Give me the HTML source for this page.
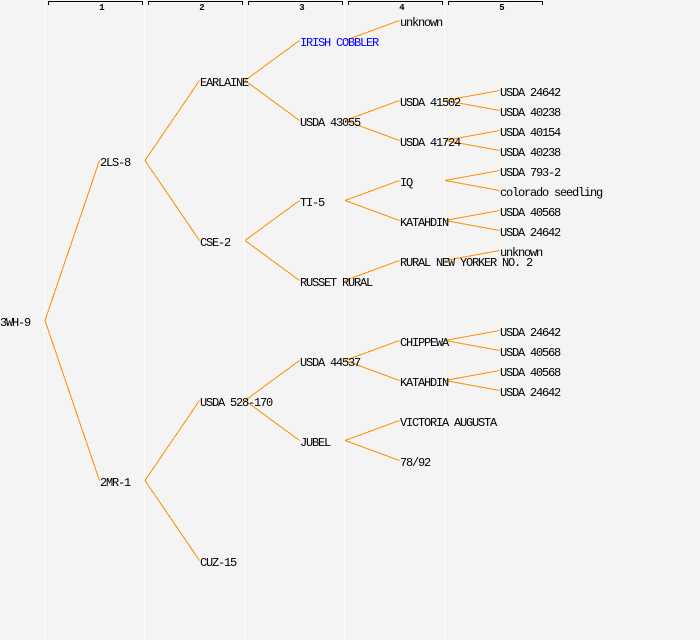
<!DOCTYPE html>
<html>
<head>
<meta charset="utf-8">
<style>
html,body{margin:0;padding:0;background:#f4f4f4;}
svg{display:block;}
.t{font-family:"Liberation Mono","DejaVu Sans Mono",monospace;font-size:12px;letter-spacing:-1.2px;fill:#000;}
.h{font-family:"Liberation Mono","DejaVu Sans Mono",monospace;font-size:9px;font-weight:bold;fill:#000;}
.e{stroke:#ff8c00;stroke-width:1;fill:none;shape-rendering:crispEdges;}
</style>
</head>
<body>
<svg width="700" height="640" viewBox="0 0 700 640" xmlns="http://www.w3.org/2000/svg">
<rect x="0" y="0" width="700" height="640" fill="#f4f4f4"/>
<!-- column separators -->
<rect x="44" y="0" width="1" height="640" fill="#ffffff"/>
<rect x="144" y="0" width="1" height="640" fill="#ffffff"/>
<rect x="244" y="0" width="1" height="640" fill="#ffffff"/>
<rect x="344" y="0" width="1" height="640" fill="#ffffff"/>
<rect x="444" y="0" width="1" height="640" fill="#ffffff"/>

<!-- header brackets -->
<g stroke="#000" stroke-width="1" fill="none" shape-rendering="crispEdges">
<path d="M48.5,5 V1.5 H142.5 V5"/>
<path d="M148.5,5 V1.5 H242.5 V5"/>
<path d="M248.5,5 V1.5 H342.5 V5"/>
<path d="M348.5,5 V1.5 H442.5 V5"/>
<path d="M448.5,5 V1.5 H542.5 V5"/>
</g>
<text class="h" x="102" y="10" text-anchor="middle">1</text>
<text class="h" x="202" y="10" text-anchor="middle">2</text>
<text class="h" x="302" y="10" text-anchor="middle">3</text>
<text class="h" x="402" y="10" text-anchor="middle">4</text>
<text class="h" x="502" y="10" text-anchor="middle">5</text>

<!-- edges -->
<g class="e">
<line x1="45" y1="320.5" x2="99.5" y2="160.5"/>
<line x1="45" y1="320.5" x2="99.5" y2="480.5"/>
<line x1="145" y1="160.5" x2="199.5" y2="80.5"/>
<line x1="145" y1="160.5" x2="199.5" y2="240.5"/>
<line x1="145" y1="480.5" x2="199.5" y2="400.5"/>
<line x1="145" y1="480.5" x2="199.5" y2="560.5"/>
<line x1="245" y1="80.5" x2="299.5" y2="40.5"/>
<line x1="245" y1="80.5" x2="299.5" y2="120.5"/>
<line x1="245" y1="240.5" x2="299.5" y2="200.5"/>
<line x1="245" y1="240.5" x2="299.5" y2="280.5"/>
<line x1="245" y1="400.5" x2="299.5" y2="360.5"/>
<line x1="245" y1="400.5" x2="299.5" y2="440.5"/>
<line x1="345" y1="40.5" x2="399.5" y2="20.5"/>
<line x1="345" y1="120.5" x2="399.5" y2="100.5"/>
<line x1="345" y1="120.5" x2="399.5" y2="140.5"/>
<line x1="345" y1="200.5" x2="399.5" y2="180.5"/>
<line x1="345" y1="200.5" x2="399.5" y2="220.5"/>
<line x1="345" y1="280.5" x2="399.5" y2="260.5"/>
<line x1="345" y1="360.5" x2="399.5" y2="340.5"/>
<line x1="345" y1="360.5" x2="399.5" y2="380.5"/>
<line x1="345" y1="440.5" x2="399.5" y2="420.5"/>
<line x1="345" y1="440.5" x2="399.5" y2="460.5"/>
<line x1="445" y1="100.5" x2="499.5" y2="90.5"/>
<line x1="445" y1="100.5" x2="499.5" y2="110.5"/>
<line x1="445" y1="140.5" x2="499.5" y2="130.5"/>
<line x1="445" y1="140.5" x2="499.5" y2="150.5"/>
<line x1="445" y1="180.5" x2="499.5" y2="170.5"/>
<line x1="445" y1="180.5" x2="499.5" y2="190.5"/>
<line x1="445" y1="220.5" x2="499.5" y2="210.5"/>
<line x1="445" y1="220.5" x2="499.5" y2="230.5"/>
<line x1="445" y1="260.5" x2="499.5" y2="250.5"/>
<line x1="445" y1="340.5" x2="499.5" y2="330.5"/>
<line x1="445" y1="340.5" x2="499.5" y2="350.5"/>
<line x1="445" y1="380.5" x2="499.5" y2="370.5"/>
<line x1="445" y1="380.5" x2="499.5" y2="390.5"/>
</g>

<!-- labels -->
<text class="t" x="0" y="326">3WH-9</text>

<text class="t" x="100" y="166">2LS-8</text>
<text class="t" x="100" y="486">2MR-1</text>

<text class="t" x="200" y="86">EARLAINE</text>
<text class="t" x="200" y="246">CSE-2</text>
<text class="t" x="200" y="406">USDA 528-170</text>
<text class="t" x="200" y="566">CUZ-15</text>

<text class="t" x="300" y="46" style="fill:#0000ff">IRISH COBBLER</text>
<text class="t" x="300" y="126">USDA 43055</text>
<text class="t" x="300" y="206">TI-5</text>
<text class="t" x="300" y="286">RUSSET RURAL</text>
<text class="t" x="300" y="366">USDA 44537</text>
<text class="t" x="300" y="446">JUBEL</text>

<text class="t" x="400" y="26">unknown</text>
<text class="t" x="400" y="106">USDA 41502</text>
<text class="t" x="400" y="146">USDA 41724</text>
<text class="t" x="400" y="186">IQ</text>
<text class="t" x="400" y="226">KATAHDIN</text>
<text class="t" x="400" y="266">RURAL NEW YORKER NO. 2</text>
<text class="t" x="400" y="346">CHIPPEWA</text>
<text class="t" x="400" y="386">KATAHDIN</text>
<text class="t" x="400" y="426">VICTORIA AUGUSTA</text>
<text class="t" x="400" y="466">78/92</text>

<text class="t" x="500" y="96">USDA 24642</text>
<text class="t" x="500" y="116">USDA 40238</text>
<text class="t" x="500" y="136">USDA 40154</text>
<text class="t" x="500" y="156">USDA 40238</text>
<text class="t" x="500" y="176">USDA 793-2</text>
<text class="t" x="500" y="196">colorado seedling</text>
<text class="t" x="500" y="216">USDA 40568</text>
<text class="t" x="500" y="236">USDA 24642</text>
<text class="t" x="500" y="256">unknown</text>
<text class="t" x="500" y="336">USDA 24642</text>
<text class="t" x="500" y="356">USDA 40568</text>
<text class="t" x="500" y="376">USDA 40568</text>
<text class="t" x="500" y="396">USDA 24642</text>
</svg>
</body>
</html>
